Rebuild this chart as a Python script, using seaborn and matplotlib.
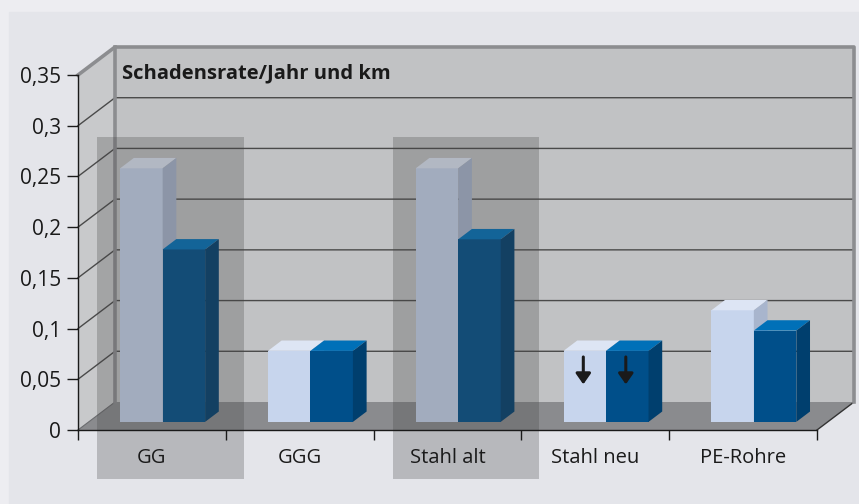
import numpy as np
import pandas as pd
import matplotlib
matplotlib.use("Agg")
import matplotlib.pyplot as plt
import seaborn as sns
from matplotlib.patches import Polygon, Rectangle
from matplotlib.lines import Line2D
from matplotlib.transforms import Affine2D, IdentityTransform

# --- Daten ---
kategorien = ["GG", "GGG", "Stahl alt", "Stahl neu", "PE-Rohre"]
reihe_hell = [0.25, 0.07, 0.25, 0.07, 0.11]
reihe_dunkel = [0.17, 0.07, 0.18, 0.07, 0.09]
reihen = ["hell", "dunkel"]
hervorgehoben = ["GG", "Stahl alt"]
mit_pfeil = ["Stahl neu"]
y_ticks = [0, 0.05, 0.1, 0.15, 0.2, 0.25, 0.3, 0.35]
y_labels = ["0", "0,05", "0,1", "0,15", "0,2", "0,25", "0,3", "0,35"]
titel = "Schadensrate/Jahr und km"

df = pd.DataFrame({
    "kategorie": kategorien * 2,
    "reihe": [reihen[0]] * len(kategorien) + [reihen[1]] * len(kategorien),
    "wert": reihe_hell + reihe_dunkel,
})

# Farben: Vorderseite, Oberseite, Seite
farben = {
    "hell": ("#c7d5ed", "#dde5f4", "#a8b5cd"),
    "dunkel": ("#004f8a", "#0070b8", "#003f6e"),
}

sns.set_style("white")
plt.rcParams["font.family"] = ["Open Sans", "DejaVu Sans"]

fig = plt.figure(figsize=(8.59, 5.04), dpi=100)
fig.patch.set_facecolor("#ededf1")
fig.patches.append(Rectangle((9 / 859, 0), 1, 1 - 12 / 504, transform=fig.transFigure,
                             color="#e4e5ea", zorder=-1))

ax = fig.add_axes([78 / 859, 74 / 504, 739 / 859, 355 / 504])
ax.set_facecolor("none")

sns.barplot(data=df, x="kategorie", y="wert", hue="reihe", order=kategorien,
            hue_order=reihen, palette=[farben[r][0] for r in reihen],
            width=0.575, saturation=1, legend=False, ax=ax)
balken = [p for p in ax.patches if isinstance(p, Rectangle)]
ax.set_xlim(-0.5, len(kategorien) - 0.5)
ax.set_ylim(0, 0.35)
ax.set_autoscale_on(False)
ax.set_xlabel("")
ax.set_ylabel("")

# Tiefe des Diagramms (Pixel)
TX, TY = 37, 28
hinten = ax.transData + Affine2D().translate(TX, TY)
vorne_bar = ax.transData + Affine2D().translate(0.29 * TX, 0.29 * TY)
BT = 0.37  # Balkentiefe

x0, x1 = ax.get_xlim()
y0, y1 = ax.get_ylim()

def pts(trans, xy):
    return trans.transform(np.array(xy))

def poly(p, farbe, z):
    ax.add_patch(Polygon(p, closed=True, facecolor=farbe, edgecolor="none",
                         transform=IdentityTransform(), zorder=z, clip_on=False))

def linie(p, farbe, lw, z):
    p = np.array(p)
    ax.add_line(Line2D(p[:, 0], p[:, 1], color=farbe, lw=lw,
                       transform=IdentityTransform(), zorder=z, clip_on=False,
                       solid_capstyle="projecting"))

# Wände und Boden
vl0, vl1 = pts(ax.transData, [[x0, y0], [x0, y1]])
vr0 = pts(ax.transData, [[x1, y0]])[0]
hl0, hl1, hr1, hr0 = pts(hinten, [[x0, y0], [x0, y1], [x1, y1], [x1, y0]])
poly([vl0, vl1, hl1, hl0], "#c8c9cb", 0.2)
poly([hl0, hl1, hr1, hr0], "#c1c2c4", 0.2)
poly([vl0, vr0, hr0, hl0], "#8a8b8e", 0.3)

for t in y_ticks[1:-1]:
    a = pts(ax.transData, [[x0, t]])[0]
    b, c = pts(hinten, [[x0, t], [x1, t]])
    linie([a, b, c], "#4a4a4a", 1.0, 0.4)
linie([vl0, hl0], "#6a6b6e", 0.8, 0.4)
linie([vr0, hr0], "#333333", 1.0, 0.4)
linie([vl1, hl1, hr1, hr0], "#8c8d90", 2.6, 0.45)
linie([hl0, hl1], "#8c8d90", 2.6, 0.45)

# Balken in die Tiefe versetzen und 3D-Flächen ergänzen
dx, dy = BT * TX, BT * TY
for p in balken:
    bx, bw, bh = p.get_x(), p.get_width(), p.get_height()
    mitte = bx + bw / 2
    i = int(round(mitte))
    r = reihen[0] if mitte < i else reihen[1]
    z = 1.0 if r == reihen[0] else 1.1
    p.set_transform(vorne_bar)
    p.set_zorder(z)
    p.set_edgecolor("none")
    lu, ru, ro, lo = pts(vorne_bar, [[bx, 0], [bx + bw, 0], [bx + bw, bh], [bx, bh]])
    d = np.array([dx, dy])
    poly([lo, ro, ro + d, lo + d], farben[r][1], z)
    poly([ru, ro, ro + d, ru + d], farben[r][2], z)
    if kategorien[i] in mit_pfeil:
        ax.annotate("", xy=(mitte - 0.01, bh - 0.033), xytext=(mitte - 0.01, bh - 0.006),
                    xycoords=vorne_bar, textcoords=vorne_bar,
                    arrowprops=dict(arrowstyle="-|>,head_length=0.4,head_width=0.28",
                                    color="#1a1a1a", lw=2.2,
                                    mutation_scale=16, shrinkA=0, shrinkB=0),
                    zorder=1.25)

# Hervorgehobene Kategorien
for k in hervorgehoben:
    i = kategorien.index(k)
    ax.add_patch(Rectangle((i - 0.37, -0.048), 0.99, 0.337, facecolor="#454545",
                           alpha=0.28, edgecolor="none", zorder=1.3, clip_on=False))

# Achsen
ax.set_axisbelow(False)
for s in ["top", "right"]:
    ax.spines[s].set_visible(False)
for s in ["left", "bottom"]:
    ax.spines[s].set_color("#1a1a1a")
    ax.spines[s].set_linewidth(1.0)
ax.set_yticks(y_ticks, y_labels)
ax.tick_params(axis="y", length=8, width=1, pad=4, labelsize=15, colors="#1a1a1a",
               direction="out", left=True)
ax.set_xticks(range(len(kategorien)), kategorien)
ax.tick_params(axis="x", which="major", length=0, pad=13, labelsize=14.5,
               colors="#1a1a1a")
ax.set_xticks(np.arange(-0.5, len(kategorien)), minor=True)
ax.tick_params(axis="x", which="minor", length=7, width=1, direction="out",
               color="#1a1a1a", bottom=True)

fig.text(122 / 859, 1 - 73 / 504, titel, fontsize=14.5, fontweight="bold",
         va="center", ha="left", color="#1a1a1a")

fig.savefig("out.png", dpi=100, facecolor=fig.get_facecolor())
